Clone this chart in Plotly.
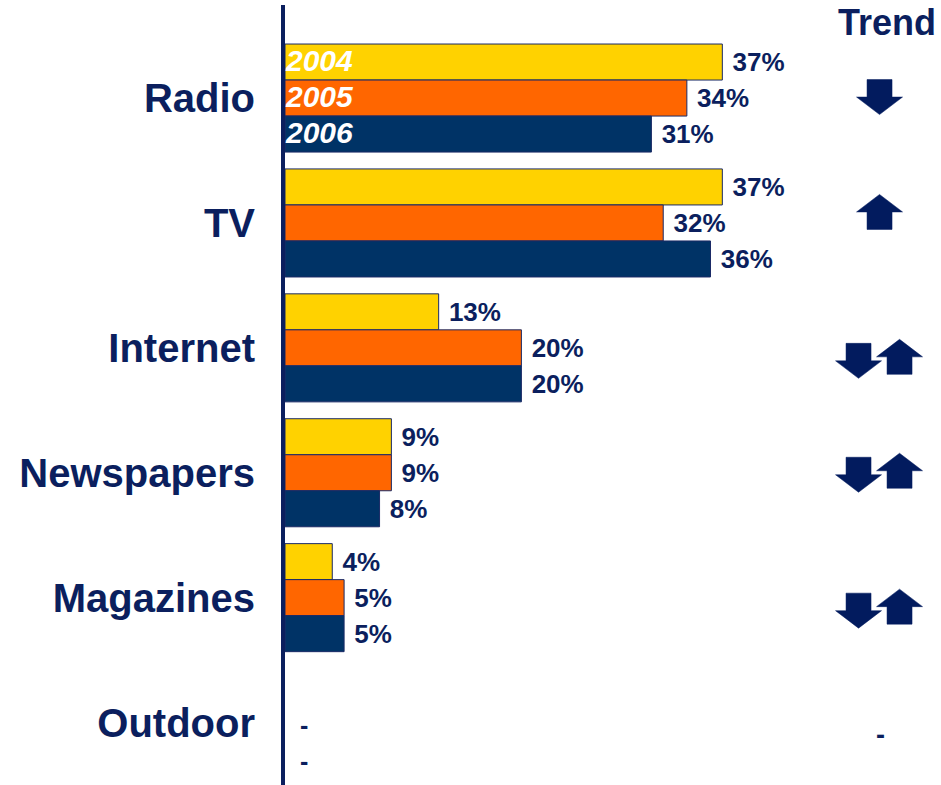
import plotly.graph_objects as go

# Media categories, top to bottom
categories = ["Radio", "TV", "Internet", "Newspapers", "Magazines", "Outdoor"]
years = ["2004", "2005", "2006"]

# Share per medium and year (%); Outdoor has no figure
share_2004 = [37, 37, 13, 9, 4, None]
share_2005 = [34, 32, 20, 9, 5, None]
share_2006 = [31, 36, 20, 8, 5, None]

# Text shown next to each bar ("-" = no data)
label_2004 = ["37%", "37%", "13%", "9%", "4%", ""]
label_2005 = ["34%", "32%", "20%", "9%", "5%", "-"]
label_2006 = ["31%", "36%", "20%", "8%", "5%", "-"]

# Trend indicators per medium: sequence of arrows ("down", "up") or "-" for none
trends = [["down"], ["up"], ["down", "up"], ["down", "up"], ["down", "up"], "-"]

NAVY = "#0b1f5e"
colors = {"2004": "#FFD200", "2005": "#FF6600", "2006": "#003366"}

series = [
    ("2004", share_2004, label_2004),
    ("2005", share_2005, label_2005),
    ("2006", share_2006, label_2006),
]

ypos = list(range(len(categories)))
BAR_PX = 36  # height of one bar within a group, used to place per-year texts

fig = go.Figure()
for k, (year, vals, labels) in enumerate(series):
    fig.add_trace(go.Bar(
        name=year,
        x=vals,
        y=ypos,
        orientation="h",
        marker=dict(color=colors[year], line=dict(color="#1a2a66", width=1)),
        text=["<b> %s</b>" % t if (t and v is not None) else "" for t, v in zip(labels, vals)],
        textposition="outside",
        cliponaxis=False,
        textfont=dict(family="Liberation Sans", size=26, color=NAVY),
        hoverinfo="skip",
    ))
    # "no data" markers for rows without a value
    for yi, (t, v) in enumerate(zip(labels, vals)):
        if v is None and t:
            fig.add_annotation(
                x=0, y=yi, xref="x", yref="y", text="<b>%s</b>" % t,
                showarrow=False, xanchor="left", yanchor="middle",
                xshift=13, yshift=(1 - k) * BAR_PX - 2,
                font=dict(family="Liberation Sans", size=25, color=NAVY),
            )

# Year labels inside the Radio bars
for i, year in enumerate(years):
    fig.add_annotation(
        x=0, y=ypos[0], xref="x", yref="y",
        text="<b><i>%s</i></b>" % year,
        showarrow=False, xanchor="left", yanchor="middle",
        yshift=(1 - i) * BAR_PX + 2, xshift=-2,
        font=dict(family="Liberation Sans", size=30, color="white"),
    )

# Trend column header
fig.add_annotation(
    x=0.918, y=0.978, xref="paper", yref="paper",
    text="<b>Trend</b>", showarrow=False, xanchor="center", yanchor="middle",
    font=dict(family="Liberation Sans", size=36, color=NAVY),
)

# Block arrows drawn as pixel-sized paths, anchored at each medium's row
DOWN = "M -12.5,17.5 L 12.5,17.5 L 12.5,0 L 23,0 L 0,-17.5 L -23,0 L -12.5,0 Z"
UP = "M -12.5,-17.5 L 12.5,-17.5 L 12.5,0 L 23,0 L 0,17.5 L -23,0 L -12.5,0 Z"
row_shift = [1, 11, -13, -2, -13, -12]  # vertical nudge of the arrow group (px)

for yi, trend in zip(ypos, trends):
    if trend == "-":
        fig.add_annotation(
            x=50.4, y=yi, xref="x", yref="y", text="<b>-</b>", showarrow=False,
            yshift=row_shift[yi], font=dict(family="Liberation Sans", size=27, color=NAVY),
        )
        continue
    if len(trend) == 1:
        offsets = [(0, 0)]
    else:
        offsets = [(-21, 0), (20, 4)]
    for kind, (dx, dy) in zip(trend, offsets):
        path = DOWN if kind == "down" else UP
        # shift the path in pixel space
        out = []
        for p in path.split(" "):
            if "," in p:
                px, py = p.split(",")
                out.append("%g,%g" % (float(px) + dx, float(py) + dy + row_shift[yi]))
            else:
                out.append(p)
        fig.add_shape(
            type="path", path=" ".join(out),
            xref="x", yref="y", xsizemode="pixel", ysizemode="pixel",
            xanchor=50.3, yanchor=yi,
            fillcolor="#021b5e", line=dict(color="#021b5e", width=0.5),
        )

fig.update_layout(
    width=941, height=785,
    margin=dict(l=285, r=0, t=5, b=0),
    barmode="group",
    bargap=0.135,
    bargroupgap=0,
    showlegend=False,
    plot_bgcolor="white",
    paper_bgcolor="white",
    xaxis=dict(range=[0, 55.5], visible=False, showgrid=False, zeroline=False),
    yaxis=dict(
        range=[5.5, -0.745],
        tickvals=ypos,
        ticktext=["<b>%s</b>" % c for c in categories],
        tickfont=dict(family="Liberation Sans", size=40, color=NAVY),
        showgrid=False, zeroline=False,
        showline=True, linecolor="#0b1f5e", linewidth=4,
        ticks="", ticklabelstandoff=18,
    ),
)

fig.write_html("out.html")
